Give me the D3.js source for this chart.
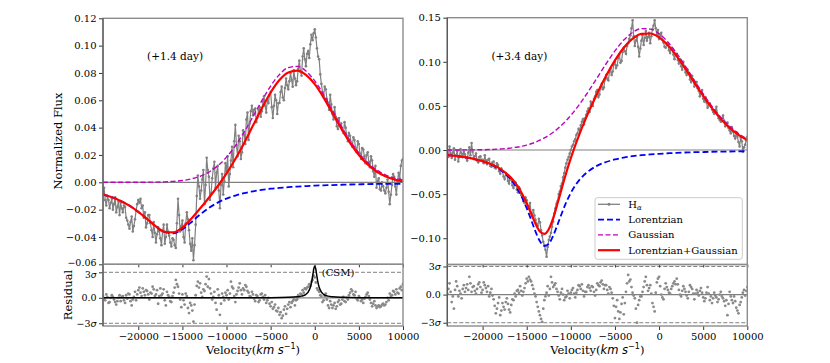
<!DOCTYPE html>
<html>
<head>
<meta charset="utf-8">
<script src="https://cdn.jsdelivr.net/npm/d3@7"></script>
<style>
  body { margin: 0; background: #fff; }
  svg text { font-family: "DejaVu Serif", serif; fill: #000; }
</style>
</head>
<body>
<div id="chart"></div>
<script>
// ---- data ----
// spectra + residuals are sampled on a 125 km/s grid from -24000 to 10000
const specVel = d3.range(-24000, 10001, 125);

const leftHalpha = [
  -0.007, -0.004, -0.013, -0.017, -0.010, -0.013, -0.019, -0.015, -0.012, -0.020, -0.016, -0.011, -0.022, -0.018, -0.014, -0.024,
  -0.015, -0.019, -0.022, -0.017, -0.018, -0.026, -0.028, -0.031, -0.034, -0.029, -0.025, -0.036, -0.032, -0.027, -0.021, -0.016,
  -0.013, -0.015, -0.012, -0.019, -0.017, -0.026, -0.022, -0.033, -0.030, -0.024, -0.024, -0.030, -0.035, -0.040, -0.029, -0.037,
  -0.044, -0.038, -0.033, -0.036, -0.041, -0.046, -0.036, -0.031, -0.045, -0.040, -0.031, -0.036, -0.039, -0.044, -0.047, -0.041,
  -0.042, -0.046, -0.048, -0.030, -0.012, -0.024, -0.036, -0.032, -0.028, -0.040, -0.044, -0.030, -0.022, -0.027, -0.035, -0.045,
  -0.050, -0.041, -0.057, -0.046, -0.031, -0.010, 0.005, -0.003, -0.012, -0.006, 0.002, 0.009, -0.016, -0.002, 0.018, 0.009,
  0.004, -0.013, -0.008, 0.003, 0.010, 0.015, -0.004, 0.007, 0.012, -0.006, -0.019, -0.002, 0.006, -0.009, 0.001, 0.014,
  0.008, 0.019, -0.003, 0.006, 0.016, 0.026, 0.011, 0.030, 0.042, 0.027, 0.019, 0.034, 0.030, 0.017, 0.022, 0.038,
  0.035, 0.028, 0.046, 0.051, 0.031, 0.043, 0.052, 0.056, 0.049, 0.053, 0.054, 0.044, 0.047, 0.053, 0.055, 0.048,
  0.052, 0.059, 0.063, 0.056, 0.051, 0.060, 0.058, 0.064, 0.066, 0.055, 0.047, 0.056, 0.064, 0.060, 0.050, 0.058,
  0.058, 0.066, 0.070, 0.062, 0.060, 0.069, 0.076, 0.071, 0.068, 0.074, 0.080, 0.075, 0.070, 0.082, 0.076, 0.071,
  0.074, 0.083, 0.089, 0.081, 0.078, 0.092, 0.098, 0.090, 0.085, 0.094, 0.096, 0.091, 0.101, 0.108, 0.104, 0.109,
  0.112, 0.106, 0.098, 0.092, 0.090, 0.079, 0.072, 0.066, 0.063, 0.070, 0.068, 0.061, 0.058, 0.053, 0.064, 0.057,
  0.050, 0.046, 0.055, 0.048, 0.041, 0.039, 0.047, 0.042, 0.043, 0.038, 0.036, 0.044, 0.040, 0.034, 0.030, 0.036,
  0.034, 0.029, 0.026, 0.033, 0.031, 0.025, 0.022, 0.030, 0.028, 0.021, 0.017, 0.025, 0.024, 0.019, 0.014, 0.020,
  0.022, 0.015, 0.011, 0.019, 0.016, 0.008, 0.004, 0.012, -0.004, 0.001, 0.003, -0.005, -0.006, 0.000, -0.003, -0.006,
  -0.008, -0.004, 0.002, -0.007, -0.016, -0.009, -0.002, 0.006, 0.004, -0.003, -0.009, 0.001, 0.007, 0.003, 0.012, 0.016,
  0.017
];

const rightHalpha = [
  -0.002, -0.008, 0.004, -0.004, -0.009, -0.003, 0.002, -0.011, -0.006, -0.001, -0.013, -0.007, 0.001, -0.004, -0.008, -0.002,
  -0.005, -0.009, -0.012, -0.003, 0.003, -0.006, 0.008, -0.002, -0.010, -0.007, -0.004, -0.012, -0.014, -0.008, -0.007, -0.012,
  -0.011, -0.015, -0.006, -0.012, -0.016, -0.011, -0.010, -0.018, -0.019, -0.014, -0.013, -0.020, -0.021, -0.015, -0.017, -0.024,
  -0.027, -0.021, -0.024, -0.030, -0.033, -0.026, -0.028, -0.035, -0.038, -0.031, -0.034, -0.040, -0.043, -0.036, -0.037, -0.045,
  -0.048, -0.042, -0.044, -0.051, -0.052, -0.058, -0.060, -0.054, -0.057, -0.066, -0.064, -0.060, -0.071, -0.075, -0.068, -0.074,
  -0.079, -0.084, -0.086, -0.078, -0.082, -0.091, -0.097, -0.104, -0.108, -0.113, -0.121, -0.110, -0.102, -0.098, -0.094, -0.087,
  -0.081, -0.072, -0.066, -0.061, -0.058, -0.050, -0.047, -0.041, -0.038, -0.031, -0.026, -0.020, -0.015, -0.011, -0.008, -0.004,
  0.000, 0.004, 0.006, 0.010, 0.012, 0.017, 0.019, 0.024, 0.022, 0.028, 0.032, 0.035, 0.029, 0.036, 0.040, 0.044,
  0.047, 0.043, 0.055, 0.052, 0.050, 0.058, 0.061, 0.066, 0.068, 0.060, 0.063, 0.071, 0.075, 0.069, 0.071, 0.080,
  0.085, 0.081, 0.079, 0.088, 0.092, 0.085, 0.089, 0.097, 0.100, 0.093, 0.096, 0.104, 0.108, 0.099, 0.101, 0.111,
  0.116, 0.112, 0.109, 0.118, 0.121, 0.126, 0.130, 0.138, 0.147, 0.129, 0.118, 0.124, 0.128, 0.117, 0.106, 0.115,
  0.124, 0.130, 0.119, 0.127, 0.135, 0.124, 0.128, 0.133, 0.121, 0.129, 0.137, 0.141, 0.147, 0.138, 0.131, 0.136,
  0.126, 0.129, 0.133, 0.125, 0.122, 0.117, 0.116, 0.121, 0.119, 0.113, 0.110, 0.116, 0.114, 0.108, 0.103, 0.109,
  0.109, 0.102, 0.098, 0.103, 0.095, 0.091, 0.100, 0.094, 0.088, 0.085, 0.091, 0.087, 0.080, 0.077, 0.084, 0.079,
  0.072, 0.075, 0.077, 0.070, 0.067, 0.061, 0.064, 0.068, 0.058, 0.055, 0.060, 0.054, 0.048, 0.051, 0.053, 0.049,
  0.046, 0.043, 0.041, 0.045, 0.049, 0.040, 0.036, 0.034, 0.032, 0.036, 0.039, 0.033, 0.027, 0.030, 0.031, 0.025,
  0.022, 0.019, 0.026, 0.021, 0.016, 0.013, 0.020, 0.015, 0.009, 0.004, 0.014, 0.010, -0.002, 0.003, 0.006, 0.011,
  0.015
];

// residuals in units of sigma
const leftResid = [
  0.2, -0.1, -0.3, 0.4, 0.1, -0.6, -0.5, 0.0, 0.3, 0.1, -0.2, -0.5, -0.8, -0.4, 0.0, 0.3,
  -0.4, 0.1, 0.2, -0.3, -0.6, 0.3, -0.1, 0.5, 0.4, -0.4, -0.9, -0.2, 0.1, 0.7, -0.3, 0.4,
  0.9, 1.2, 0.6, 0.2, 1.1, 0.7, 0.3, 0.9, 0.8, 0.4, -0.2, 0.6, 0.5, 1.3, 1.0, 0.2,
  0.4, 0.9, -0.7, 0.2, 1.1, 0.3, 0.5, 1.0, -0.3, -0.9, 0.7, 0.3, 0.1, -0.4, -0.5, 0.2,
  0.6, 1.2, 2.1, 1.6, 1.3, 0.5, -0.2, -1.1, 0.4, -0.3, -0.8, 0.5, 0.2, -1.2, -1.8, -0.6,
  -0.9, -1.5, -2.8, -0.8, 0.3, 1.4, 1.9, 1.2, 1.7, 0.6, 0.1, 1.0, 0.8, 1.6, 2.5, 1.3,
  2.2, 1.1, 0.5, -0.2, 0.1, 0.7, -0.6, -1.4, 1.0, 0.3, -2.0, -0.7, 0.5, 0.1, -0.3, 0.6,
  0.3, 0.9, -0.2, 0.5, 1.9, 1.3, 1.1, 0.2, -0.5, 0.4, 0.8, 1.2, 1.7, 0.9, 0.4, 1.1,
  0.9, 1.5, 1.3, 0.8, 0.6, 0.2, 0.1, 0.7, 0.4, -0.1, -0.4, 0.3, 0.2, -0.5, -0.3, 0.4,
  0.5, 0.1, -0.2, 0.3, -0.6, -0.3, 0.0, -0.7, -1.0, -0.5, -1.3, -1.1, -0.8, -1.5, -1.6, -1.2,
  -2.0, -1.7, -2.4, -2.1, -1.4, -1.0, -1.9, -1.3, -0.8, -0.5, -1.1, -0.6, -0.4, -0.2, -0.9, -0.3,
  -0.2, 0.3, 0.1, 0.5, 0.4, 0.9, 0.6, 1.1, 1.0, 1.2, 1.3, 1.6, 1.4, 1.9, 2.1, 2.6,
  2.4, 1.8, 1.1, 0.9, 0.7, 0.3, 0.2, -0.5, -0.3, 0.2, 0.5, -0.2, -0.9, -1.2, -0.4, -0.8,
  -1.2, -0.9, -0.6, -1.3, -1.0, -0.5, -0.3, -0.8, -0.7, -0.2, 0.1, -0.4, -0.5, 0.0, -0.2, 0.3,
  0.6, 1.0, 0.8, 0.4, 0.3, 0.7, -0.1, -0.3, 0.2, 0.0, -0.4, -0.2, -0.6, -0.1, 0.1, 0.4,
  0.6, 0.2, -0.2, -0.6, -1.0, -0.7, -0.4, -0.9, -1.2, -1.0, -0.9, -1.1, -1.0, -0.8, -0.7, -0.9,
  -0.8, -0.5, 0.0, -0.3, 0.5, 0.2, 0.3, 0.8, 0.7, 0.4, 1.0, 0.6, 0.5, 1.1, 1.3, 0.9,
  1.6
];

const rightResid = [
  0.1, 0.6, 1.2, 0.3, -0.8, -0.2, -1.5, 0.5, 1.4, 0.9, -0.2, 0.4, 0.1, -0.4, 0.6, 1.0,
  0.3, 0.7, 1.1, 0.5, 1.9, 1.2, 0.3, 0.8, 0.9, 0.4, 0.1, 0.6, 1.1, 1.3, 0.8, 0.2,
  0.5, 1.3, 1.0, 0.7, 0.3, 0.9, -0.2, 0.2, 0.6, -0.1, -0.5, -1.2, -2.0, -1.5, -0.9, -0.3,
  -2.2, -1.7, -0.9, -1.3, -1.6, -0.8, -0.4, -1.0, -1.6, -1.9, -1.1, -0.5, -0.6, 0.1, -0.2, 0.4,
  0.5, 0.2, 0.9, 0.4, -0.1, 0.3, 0.7, 1.2, 1.7, 1.4, 1.9, 1.6, 1.4, 1.0, 0.6, 0.1,
  -0.2, -0.8, -1.3, -1.8, -2.2, -2.6, -2.9, -1.5, -0.6, -0.2, 0.2, 0.9, -0.1, 0.6, 1.9, 1.3,
  0.8, 1.0, 1.2, 0.6, 0.3, -0.1, -0.5, 0.2, 0.6, 0.0, -0.6, -0.3, -0.2, 0.4, 0.1, -0.4,
  0.2, 0.5, 0.7, 0.1, -0.3, 0.2, 0.5, 1.0, 0.9, 0.6, 1.1, 0.4, -0.2, 0.3, 0.3, 0.8,
  1.0, 0.7, 0.4, 0.9, 0.8, 0.3, -0.1, 0.5, 1.2, 1.0, 0.9, 1.3, 1.5, 1.1, 0.6, 1.0,
  1.0, 0.5, 0.1, 0.8, 0.6, 0.2, -0.4, -1.2, -2.5, -1.3, -0.6, -1.8, -2.6, -1.9, -1.0, -0.3,
  -2.1, -0.9, 0.3, 1.2, 2.1, 1.4, 1.6, 0.8, 0.2, -0.1, -0.4, -1.5, -3.0, -1.1, -0.6, -0.2,
  -0.2, 0.3, 0.8, 1.4, 1.9, 1.0, 0.4, 0.7, 1.0, 0.1, -0.9, -1.3, -1.8, 0.2, 1.3, 1.7,
  1.9, 0.9, 0.0, -0.3, -0.5, 0.6, 1.2, 0.8, 0.5, 0.2, 0.1, 0.6, 0.9, 1.2, 1.4, 1.1,
  1.7, 1.1, 0.5, 0.0, -0.2, 0.4, 0.9, 0.6, 0.3, -0.1, -0.4, 0.3, 1.0, 0.8, 0.6, 0.1,
  -0.5, 0.1, 0.5, 0.2, -0.1, 0.4, 0.7, 0.2, -0.3, -0.7, -0.4, 0.2, 0.8, 0.1, -0.6, -0.2,
  -0.9, -0.4, 0.2, -0.1, -0.3, -0.8, -0.5, 0.0, 0.3, -0.2, -0.4, -0.7, -1.2, -0.6, -2.2, -1.0,
  0.3, -0.2, -0.6, -0.9, -0.2, -0.7, -1.4, -1.7, -2.0, -1.1, -0.8, -0.3, 0.2, 0.5, -0.1, 0.4,
  0.8
];

// fitted components, +1.4 day
const leftCurveVel = d3.range(-24000, 10001, 1000);
const leftLorentz = [
  -0.0089, -0.0109, -0.0136, -0.0171, -0.0216, -0.0269, -0.0324, -0.0365, -0.0373,
  -0.0344, -0.0292, -0.0236, -0.0188, -0.0149, -0.0119, -0.0097, -0.0079, -0.0066,
  -0.0056, -0.0047, -0.0041, -0.0036, -0.0031, -0.0028, -0.0024, -0.0022, -0.0020,
  -0.0018, -0.0016, -0.0015, -0.0013, -0.0012, -0.0011, -0.0011, -0.0010
];
const leftGauss = [
  0, 0, 0, 0, 0, 0.0001, 0.0001, 0.0003, 0.0007,
  0.0013, 0.0025, 0.0044, 0.0075, 0.0120, 0.0184, 0.0267, 0.0367, 0.0481,
  0.0597, 0.0704, 0.0789, 0.0839, 0.0848, 0.0814, 0.0742, 0.0642, 0.0527,
  0.0412, 0.0305, 0.0215, 0.0144, 0.0091, 0.0055, 0.0031, 0.0017
];
const leftFit = [
  -0.0089, -0.0109, -0.0136, -0.0171, -0.0216, -0.0268, -0.0323, -0.0362, -0.0366,
  -0.0331, -0.0267, -0.0192, -0.0113, -0.0029, 0.0065, 0.0170, 0.0288, 0.0415,
  0.0541, 0.0657, 0.0748, 0.0803, 0.0817, 0.0786, 0.0718, 0.0620, 0.0507,
  0.0394, 0.0289, 0.0200, 0.0131, 0.0079, 0.0044, 0.0020, 0.0007
];

// fitted components, +3.4 day (denser near the absorption core)
const rightCurveVel = [
  -24000, -23000, -22000, -21000, -20000, -19000, -18000, -17000,
  -16500, -16000, -15500, -15000, -14500, -14000, -13500, -13000,
  -12500, -12000, -11500, -11000, -10500, -10000, -9500, -9000,
  -8000, -7000, -6000, -5000, -4000, -3000, -2000, -1000, 0,
  1000, 2000, 3000, 4000, 5000, 6000, 7000, 8000, 9000, 10000
];
const rightLorentz = [
  -0.0057, -0.0068, -0.0082, -0.0102, -0.0129, -0.0168, -0.0225, -0.0313,
  -0.0374, -0.0450, -0.0545, -0.0660, -0.0791, -0.0925, -0.1035, -0.1088,
  -0.1065, -0.0973, -0.0845, -0.0711, -0.0589, -0.0486, -0.0402, -0.0335,
  -0.0240, -0.0177, -0.0136, -0.0107, -0.0086, -0.0070, -0.0059, -0.0050, -0.0043,
  -0.0037, -0.0032, -0.0028, -0.0025, -0.0023, -0.0020, -0.0018, -0.0017, -0.0015, -0.0014
];
const rightGauss = [
  0.0000, 0.0000, 0.0001, 0.0002, 0.0003, 0.0006, 0.0012, 0.0020,
  0.0027, 0.0034, 0.0044, 0.0056, 0.0071, 0.0089, 0.0111, 0.0137,
  0.0167, 0.0201, 0.0241, 0.0286, 0.0337, 0.0393, 0.0454, 0.0521,
  0.0666, 0.0821, 0.0978, 0.1123, 0.1246, 0.1333, 0.1376, 0.1371, 0.1319,
  0.1224, 0.1096, 0.0947, 0.0790, 0.0636, 0.0494, 0.0370, 0.0268, 0.0187, 0.0126
];
const rightFit = [
  -0.0057, -0.0068, -0.0081, -0.0100, -0.0126, -0.0162, -0.0213, -0.0293,
  -0.0347, -0.0416, -0.0501, -0.0604, -0.0720, -0.0836, -0.0924, -0.0951,
  -0.0898, -0.0772, -0.0604, -0.0425, -0.0252, -0.0093, 0.0052, 0.0186,
  0.0426, 0.0644, 0.0842, 0.1016, 0.1160, 0.1263, 0.1317, 0.1321, 0.1276,
  0.1187, 0.1064, 0.0919, 0.0765, 0.0613, 0.0474, 0.0352, 0.0251, 0.0172, 0.0112
];

// narrow CSM component in the +1.4 day residual (sigma units)
const csmVel = [
  -24000, -8000, -5000, -3000, -2000, -1500, -1000, -750, -500, -350, -200, -100, 0,
  100, 200, 350, 500, 750, 1000, 1500, 2000, 3000, 5000, 8000, 10000
];
const csmResid = [
  0.00, 0.007, 0.018, 0.050, 0.111, 0.194, 0.410, 0.671, 1.233, 1.875, 2.83, 3.47, 3.75,
  3.47, 2.83, 1.875, 1.233, 0.671, 0.410, 0.194, 0.111, 0.050, 0.018, 0.007, 0.00
];

const velTicks = [-20000, -15000, -10000, -5000, 0, 5000, 10000];
const leftFluxTicks = [-0.06, -0.04, -0.02, 0.00, 0.02, 0.04, 0.06, 0.08, 0.10, 0.12];
const rightFluxTicks = [-0.10, -0.05, 0.00, 0.05, 0.10, 0.15];
const residTicks = [-3, 0, 3];

// ---- drawing ----
const W = 830, H = 363;
const svg = d3.select('#chart').append('svg')
  .attr('width', W).attr('height', H);

const minus = s => String(s).replace('-', '\u2212');

function drawPanel(cfg, idx) {
  const x = d3.scaleLinear().domain([-24000, 10000]).range([cfg.x0, cfg.x1]);
  const y = d3.scaleLinear().domain(cfg.fluxDomain).range([cfg.bottom, cfg.top]);
  const yr = d3.scaleLinear().domain(cfg.resDomain).range([cfg.resBottom, cfg.bottom]);

  const defs = svg.append('defs');
  defs.append('clipPath').attr('id', `clipTop${idx}`)
    .append('rect').attr('x', cfg.x0).attr('y', cfg.top)
    .attr('width', cfg.x1 - cfg.x0).attr('height', cfg.bottom - cfg.top);
  defs.append('clipPath').attr('id', `clipRes${idx}`)
    .append('rect').attr('x', cfg.x0).attr('y', cfg.bottom)
    .attr('width', cfg.x1 - cfg.x0).attr('height', cfg.resBottom - cfg.bottom);

  // upper panel
  const top = svg.append('g').attr('clip-path', `url(#clipTop${idx})`);
  top.append('line')
    .attr('x1', cfg.x0).attr('x2', cfg.x1)
    .attr('y1', y(0)).attr('y2', y(0))
    .attr('stroke', '#808080').attr('stroke-width', 1.2);

  const spec = specVel.map((v, i) => [v, cfg.halpha[i]]);
  top.append('path').datum(spec)
    .attr('fill', 'none').attr('stroke', '#808080').attr('stroke-width', 1.2)
    .attr('d', d3.line().x(d => x(d[0])).y(d => y(d[1])));
  top.append('g').selectAll('circle').data(spec).join('circle')
    .attr('cx', d => x(d[0])).attr('cy', d => y(d[1])).attr('r', 1.3)
    .attr('fill', '#808080');

  const curve = vals => cfg.curveVel.map((v, i) => [v, vals[i]]);
  const smooth = d3.line().curve(d3.curveMonotoneX).x(d => x(d[0])).y(d => y(d[1]));
  top.append('path').datum(curve(cfg.lorentz))
    .attr('fill', 'none').attr('stroke', '#0000ff').attr('stroke-width', 1.8)
    .attr('stroke-dasharray', '6,3').attr('d', smooth);
  top.append('path').datum(curve(cfg.gauss))
    .attr('fill', 'none').attr('stroke', '#bf00bf').attr('stroke-width', 1.4)
    .attr('stroke-dasharray', '5,2.5').attr('d', smooth);
  top.append('path').datum(curve(cfg.fit))
    .attr('fill', 'none').attr('stroke', '#ff0000').attr('stroke-width', 2.2)
    .attr('d', smooth);

  // residual panel
  const res = svg.append('g').attr('clip-path', `url(#clipRes${idx})`);
  [3, -3].forEach(s => {
    res.append('line')
      .attr('x1', cfg.x0).attr('x2', cfg.x1)
      .attr('y1', yr(s)).attr('y2', yr(s))
      .attr('stroke', '#808080').attr('stroke-width', 1).attr('stroke-dasharray', '4,2');
  });
  res.append('line')
    .attr('x1', cfg.x0).attr('x2', cfg.x1)
    .attr('y1', yr(0)).attr('y2', yr(0))
    .attr('stroke', '#808080').attr('stroke-width', 1.2);
  res.append('g').selectAll('circle')
    .data(specVel.map((v, i) => [v, cfg.resid[i]]))
    .join('circle')
    .attr('cx', d => x(d[0])).attr('cy', d => yr(d[1])).attr('r', 1.4)
    .attr('fill', '#8a8a8a');
  if (cfg.csm) {
    res.append('path').datum(csmVel.map((v, i) => [v, csmResid[i]]))
      .attr('fill', 'none').attr('stroke', '#000').attr('stroke-width', 1.5)
      .attr('d', d3.line().curve(d3.curveMonotoneX).x(d => x(d[0])).y(d => yr(d[1])));
  }

  // axes
  const fmtFlux = d => minus(d3.format('.2f')(d));
  const yAxis = svg.append('g').attr('transform', `translate(${cfg.x0},0)`)
    .call(d3.axisLeft(y).tickValues(cfg.fluxTicks).tickFormat(fmtFlux).tickSize(4).tickPadding(2.5));
  const rAxis = svg.append('g').attr('transform', `translate(${cfg.x0},0)`)
    .call(d3.axisLeft(yr).tickValues(residTicks).tickSize(4).tickPadding(2.5));
  const xAxis = svg.append('g').attr('transform', `translate(0,${cfg.resBottom})`)
    .call(d3.axisBottom(x).tickValues(velTicks).tickFormat(d => minus(d)).tickSize(4).tickPadding(2.5));
  svg.append('g').attr('transform', `translate(0,${cfg.bottom})`)
    .call(d3.axisBottom(x).tickValues(velTicks).tickFormat('').tickSize(3));

  svg.selectAll('.domain').remove();
  [yAxis, rAxis, xAxis].forEach(a => a.selectAll('text')
    .attr('font-family', 'DejaVu Serif, serif').attr('font-size', 10).attr('fill', '#000'));
  rAxis.selectAll('.tick text').attr('font-size', 9.5).each(function(d) {
    const t = d3.select(this).text('');
    if (d === 0) { t.text('0.0'); return; }
    t.append('tspan').text(d < 0 ? '\u22123' : '3');
    t.append('tspan').attr('font-style', 'italic').attr('font-family', 'DejaVu Sans, sans-serif').text('\u03c3');
  });
  // the lowest flux label and the 3σ label sit very close on the left panel
  if (cfg.csm) {
    rAxis.selectAll('.tick').filter(d => d === 3).select('text').attr('font-size', 9).attr('dy', '0.6em');
    yAxis.selectAll('.tick').filter(d => d === -0.06).select('text').attr('font-size', 9.5).attr('dy', '0.12em');
  }
  svg.selectAll('.tick line').attr('stroke', '#333');

  // frames
  const frame = (y0, y1) => {
    svg.append('rect').attr('x', cfg.x0).attr('y', y0)
      .attr('width', cfg.x1 - cfg.x0).attr('height', y1 - y0)
      .attr('fill', 'none').attr('stroke', '#8c8c8c').attr('stroke-width', 1.4);
    svg.append('line').attr('x1', cfg.x0).attr('x2', cfg.x0).attr('y1', y0).attr('y2', y1)
      .attr('stroke', '#555').attr('stroke-width', 1.2);
  };
  frame(cfg.top, cfg.bottom);
  frame(cfg.bottom, cfg.resBottom);

  // labels
  svg.append('text').attr('x', x(cfg.dayAt)).attr('y', 56).attr('dy', '0.35em')
    .attr('font-size', 10.5).text(cfg.day);

  const xl = svg.append('text').attr('x', (cfg.x0 + cfg.x1) / 2).attr('y', 354)
    .attr('text-anchor', 'middle').attr('font-size', 11.5);
  xl.append('tspan').text('Velocity(');
  xl.append('tspan').attr('font-family', 'DejaVu Sans, sans-serif').attr('font-style', 'italic').text('km s');
  xl.append('tspan').attr('font-family', 'DejaVu Sans, sans-serif').attr('font-size', 8).attr('dy', -5).text('\u22121');
  xl.append('tspan').attr('dy', 5).text(')');

  return { x, y, yr };
}

const left = drawPanel({
  x0: 103, x1: 403, top: 18.3, bottom: 264.3, resBottom: 326,
  fluxDomain: [-0.06, 0.12], resDomain: [-3.32, 3.94],
  fluxTicks: leftFluxTicks,
  halpha: leftHalpha, resid: leftResid,
  curveVel: leftCurveVel, lorentz: leftLorentz, gauss: leftGauss, fit: leftFit,
  csm: true, day: '(+1.4 day)', dayAt: -19000
}, 0);

const right = drawPanel({
  x0: 447.3, x1: 747.3, top: 17.7, bottom: 264.5, resBottom: 326,
  fluxDomain: [-0.1298, 0.15], resDomain: [-3.35, 3.21],
  fluxTicks: rightFluxTicks,
  halpha: rightHalpha, resid: rightResid,
  curveVel: rightCurveVel, lorentz: rightLorentz, gauss: rightGauss, fit: rightFit,
  csm: false, day: '(+3.4 day)', dayAt: -19000
}, 1);

// y labels (left panel only)
svg.append('text')
  .attr('transform', `translate(62,141) rotate(-90)`)
  .attr('text-anchor', 'middle').attr('font-size', 11.5).text('Normalized Flux');
svg.append('text')
  .attr('transform', `translate(72,295) rotate(-90)`)
  .attr('text-anchor', 'middle').attr('font-size', 11.5).text('Residual');

// CSM note
svg.append('text').attr('x', left.x(800)).attr('y', 272.5).attr('dy', '0.35em')
  .attr('font-size', 10).text('(CSM)');

// legend
const lg = svg.append('g').attr('transform', 'translate(595,197.7)');
lg.append('rect').attr('width', 147.3).attr('height', 61.6).attr('rx', 2.5)
  .attr('fill', '#fff').attr('fill-opacity', 0.85).attr('stroke', '#cccccc');
const legendItems = [
  { label: 'H', sub: '\u03b1', color: '#808080', dash: null, w: 1.3, marker: true },
  { label: 'Lorentzian', color: '#0000ff', dash: '6,3', w: 1.8 },
  { label: 'Gaussian', color: '#bf00bf', dash: '5,2.5', w: 1.4 },
  { label: 'Lorentzian+Gaussian', color: '#ff0000', dash: null, w: 2.2 }
];
legendItems.forEach((it, i) => {
  const yy = 6.6 + i * 15.3;
  lg.append('line').attr('x1', 3).attr('x2', 25).attr('y1', yy).attr('y2', yy)
    .attr('stroke', it.color).attr('stroke-width', it.w)
    .attr('stroke-dasharray', it.dash);
  if (it.marker) lg.append('circle').attr('cx', 14).attr('cy', yy).attr('r', 1.5).attr('fill', it.color);
  const t = lg.append('text').attr('x', 33.3).attr('y', yy).attr('dy', '0.35em').attr('font-size', 10);
  t.append('tspan').text(it.label);
  if (it.sub) t.append('tspan').attr('font-style', 'italic').attr('font-size', 7).attr('dy', 2.5).text(it.sub);
});
</script>
</body>
</html>
